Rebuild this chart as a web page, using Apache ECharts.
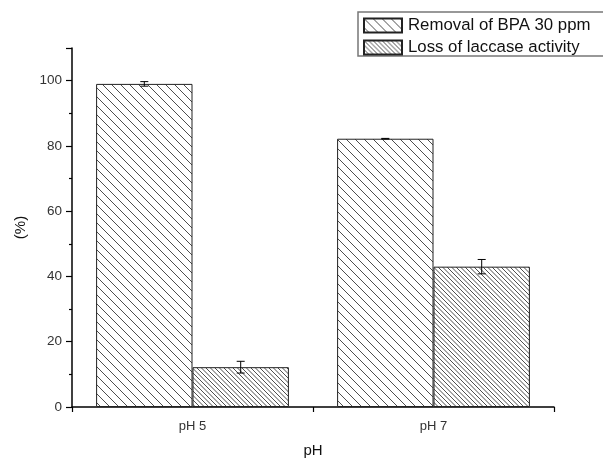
<!DOCTYPE html>
<html>
<head>
<meta charset="utf-8">
<script src="https://cdn.jsdelivr.net/npm/echarts@6/dist/echarts.min.js"></script>
<style>html,body{margin:0;padding:0;background:#fff;}#c{width:603px;height:459px;}</style>
</head>
<body>
<div id="c"></div>
<script>
var categories = ['pH 5', 'pH 7'];
var removal = [99.0, 82.2];
var removalErr = [0.7, 0.1];
var loss = [12.2, 43.0];
var lossErr = [1.8, 2.2];
var seriesNames = ['Removal of BPA 30 ppm', 'Loss of laccase activity'];

function hatch(spacing, tile) {
  var c = document.createElement('canvas');
  c.width = tile; c.height = tile;
  var ctx = c.getContext('2d');
  ctx.fillStyle = '#fff';
  ctx.fillRect(0, 0, tile, tile);
  ctx.strokeStyle = '#3a3a3a';
  ctx.lineWidth = 0.9;
  for (var o = -tile; o <= tile; o += spacing) {
    ctx.beginPath();
    ctx.moveTo(o, 0);
    ctx.lineTo(o + tile, tile);
    ctx.stroke();
  }
  return { image: c, repeat: 'repeat' };
}
var patRemoval = hatch(9, 9);
var patLoss = hatch(4.5, 9);

function errSeries(vals, errs, side) {
  var data = vals.map(function (v, i) { return [i, v, errs[i]]; });
  return {
    type: 'custom',
    xAxisIndex: 0,
    silent: true,
    z: 10,
    renderItem: function (params, api) {
      var i = api.value(0), v = api.value(1), e = api.value(2);
      var bw = api.size([1, 0])[0] * 0.4;
      var p0 = api.coord([i, v - e]);
      var p1 = api.coord([i, v + e]);
      var x = p0[0] + side * bw / 2;
      var cap = 4;
      var st = { stroke: '#000', lineWidth: 1 };
      return {
        type: 'group',
        children: [
          { type: 'line', shape: { x1: x, y1: p0[1], x2: x, y2: p1[1] }, style: st },
          { type: 'line', shape: { x1: x - cap, y1: p0[1], x2: x + cap, y2: p0[1] }, style: st },
          { type: 'line', shape: { x1: x - cap, y1: p1[1], x2: x + cap, y2: p1[1] }, style: st }
        ]
      };
    },
    data: data
  };
}

var chart = echarts.init(document.getElementById('c'));
chart.setOption({
  animation: false,
  textStyle: { fontFamily: 'Liberation Sans, Arial, sans-serif' },
  grid: { left: 72, right: 49, top: 48, bottom: 52, containLabel: false, outerBoundsMode: 'none' },
  graphic: [{
    type: 'rect',
    z: 1,
    silent: true,
    shape: { x: 358, y: 12, width: 300, height: 44 },
    style: { fill: '#fff', stroke: '#777', lineWidth: 1.5 }
  }],
  legend: {
    orient: 'vertical',
    left: 358,
    top: 12,
    z: 5,
    padding: [5, 10, 5, 5],
    itemGap: 5,
    itemWidth: 38,
    itemHeight: 14,
    icon: 'rect',
    borderWidth: 0,
    textStyle: { fontSize: 16.8, color: '#111', padding: [0, 0, 0, 1] },
    data: seriesNames
  },
  xAxis: [{
    type: 'category',
    data: categories,
    boundaryGap: true,
    axisLine: { lineStyle: { color: '#000', width: 1.5 } },
    axisTick: { alignWithLabel: true, length: 5, lineStyle: { color: '#000', width: 1.2 } },
    axisLabel: { color: '#333', fontSize: 13, margin: 13 },
    name: 'pH',
    nameLocation: 'middle',
    nameGap: 36,
    nameTextStyle: { fontSize: 15, color: '#111' }
  }, {
    type: 'category',
    data: categories,
    position: 'bottom',
    boundaryGap: true,
    axisLine: { show: false },
    axisTick: { show: true, length: 5, lineStyle: { color: '#000', width: 1.2 } },
    axisLabel: { show: false }
  }],
  yAxis: {
    type: 'value',
    min: 0,
    max: 110,
    interval: 20,
    axisLine: { show: true, lineStyle: { color: '#000', width: 1.5 } },
    axisTick: { show: true, length: 6, lineStyle: { color: '#000', width: 1.2 } },
    minorTick: { show: true, splitNumber: 2, length: 3, lineStyle: { color: '#000', width: 1.2 } },
    splitLine: { show: false },
    axisLabel: {
      color: '#333', fontSize: 13.5, margin: 10,
      formatter: function (v) { return v > 100 ? '' : String(v); }
    },
    name: '(%)',
    nameLocation: 'middle',
    nameGap: 43,
    nameTextStyle: { fontSize: 15, color: '#111' }
  },
  series: [{
    name: seriesNames[0],
    type: 'bar',
    xAxisIndex: 0,
    barWidth: '40%',
    barGap: '0%',
    itemStyle: { color: patRemoval, borderColor: '#222', borderWidth: 1 },
    data: removal
  }, {
    name: seriesNames[1],
    type: 'bar',
    xAxisIndex: 0,
    barWidth: '40%',
    barGap: '0%',
    itemStyle: { color: patLoss, borderColor: '#222', borderWidth: 1 },
    data: loss
  },
  errSeries(removal, removalErr, -1),
  errSeries(loss, lossErr, 1)
  ]
});
</script>
</body>
</html>
